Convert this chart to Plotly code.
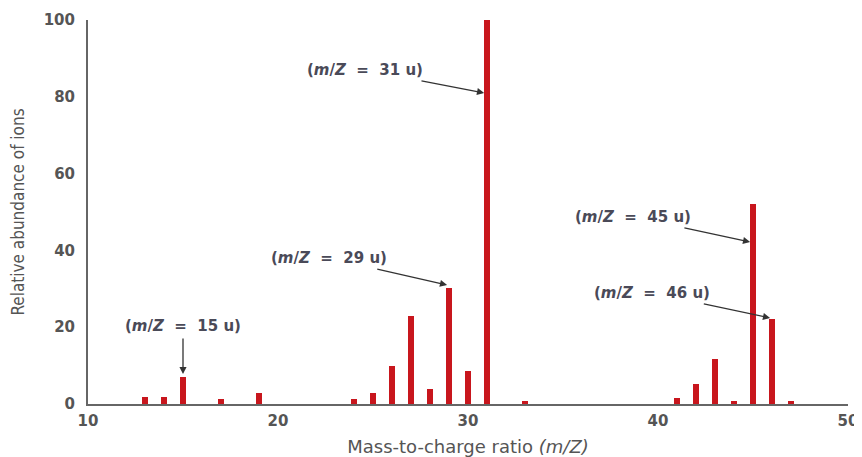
import plotly.graph_objects as go

mz = [13, 14, 15, 17, 19, 24, 25, 26, 27, 28, 29, 30, 31, 33, 41, 42, 43, 44, 45, 46, 47]
abundance = [1.9, 1.9, 7.1, 1.2, 2.9, 1.2, 2.8, 10, 23, 3.8, 30.3, 8.6, 100, 0.9, 1.5, 5.2, 11.7, 0.9, 52, 22.1, 0.9]

x_ticks = [10, 20, 30, 40, 50]
y_ticks = [0, 20, 40, 60, 80, 100]

# annotation labels: (label peak, text x, text y, head x, head y)
ann_labels = ["15", "29", "31", "45", "46"]
ann_text_x = [15.0, 22.7, 24.6, 38.7, 39.7]
ann_text_y = [20.3, 38.0, 87.0, 48.7, 28.9]
ann_head_x = [15.0, 28.9, 30.85, 44.85, 45.9]
ann_head_y = [7.8, 31.0, 81.0, 42.2, 22.4]

bar_color = "#c8161d"
text_color = "#4a4a58"
font_main = "DejaVu Sans, Verdana, sans-serif"

fig = go.Figure()
fig.add_trace(go.Bar(x=mz, y=abundance, width=0.35, marker=dict(color=bar_color, line=dict(width=0)),
                     showlegend=False))

annotations = []
for lab, tx, ty, hx, hy in zip(ann_labels, ann_text_x, ann_text_y, ann_head_x, ann_head_y):
    annotations.append(dict(
        x=hx, y=hy, ax=tx, ay=ty, xref="x", yref="y", axref="x", ayref="y",
        text="(<i>m</i>/<i>Z</i>&nbsp; = &nbsp;" + lab + " u)",
        showarrow=True, arrowhead=2, arrowsize=1.1, arrowwidth=1.3, arrowcolor="#333333",
        standoff=0, startstandoff=2,
        font=dict(family=font_main, size=15, color=text_color, weight="bold"),
    ))

fig.update_layout(
    width=854, height=449,
    margin=dict(l=80, r=14, t=12, b=53),
    plot_bgcolor="white", paper_bgcolor="white",
    bargap=0,
    annotations=annotations,
    xaxis=dict(range=[10, 50], tickvals=x_ticks, showgrid=False, zeroline=False, automargin=False,
               showline=True, linecolor="#666666", linewidth=2, ticks="", ticklabelstandoff=2,
               ticklabeloverflow="allow",
               tickfont=dict(family=font_main, size=15, color="#555555", weight="bold"),
               title=dict(text="Mass-to-charge ratio <i>(m/Z)</i>", standoff=14,
                          font=dict(family=font_main, size=18, color="#555555"))),
    yaxis=dict(range=[0, 100], tickvals=y_ticks, showgrid=False, zeroline=False, automargin=False,
               showline=True, linecolor="#666666", linewidth=2, ticks="", ticklabelstandoff=8,
               ticklabeloverflow="allow",
               tickfont=dict(family=font_main, size=15, color="#555555", weight="bold"),
               title=dict(text="Relative abundance of ions", standoff=21,
                          font=dict(family="Liberation Sans Narrow, DejaVu Sans Condensed, sans-serif",
                                    size=17, color="#555555"))),
)

fig.write_html("out.html")
